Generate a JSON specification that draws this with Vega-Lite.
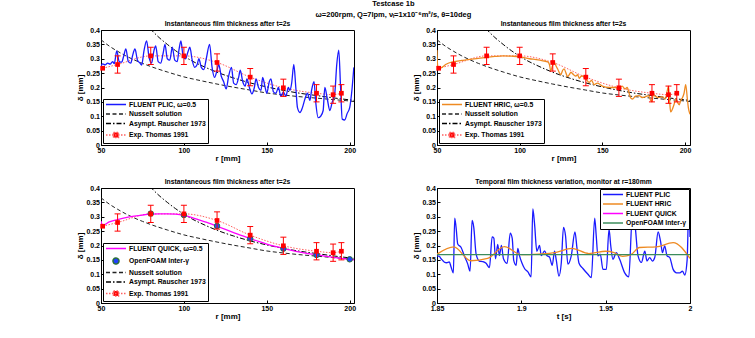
{
  "$schema": "https://vega.github.io/schema/vega-lite/v6.json",
  "background": "white",
  "padding": {"left": 76, "top": 0, "right": 5, "bottom": 5},
  "title": {"text": ["Testcase 1b", "ω=200rpm, Q=7lpm, νₗ=1x10⁻⁶m²/s, θ=10deg"], "fontSize": 7.5, "fontWeight": "bold", "lineHeight": 11, "offset": 2, "dx": 9, "anchor": "middle", "color": "black"},
  "columns": 2,
  "spacing": {"row": 15, "column": 55},
  "resolve": {"scale": {"x": "independent", "y": "independent", "color": "independent", "strokeDash": "independent"}, "legend": {"color": "independent", "strokeDash": "independent"}},
  "datasets": {
    "common": [
      {"s": "Nusselt solution", "r": 50, "d": 0.366}, {"s": "Nusselt solution", "r": 55, "d": 0.344}, {"s": "Nusselt solution", "r": 60, "d": 0.326}, {"s": "Nusselt solution", "r": 65, "d": 0.31}, {"s": "Nusselt solution", "r": 70, "d": 0.296}, {"s": "Nusselt solution", "r": 75, "d": 0.284}, {"s": "Nusselt solution", "r": 80, "d": 0.273}, {"s": "Nusselt solution", "r": 90, "d": 0.254}, {"s": "Nusselt solution", "r": 100, "d": 0.237}, {"s": "Nusselt solution", "r": 110, "d": 0.224}, {"s": "Nusselt solution", "r": 120, "d": 0.212}, {"s": "Nusselt solution", "r": 130, "d": 0.201}, {"s": "Nusselt solution", "r": 140, "d": 0.191}, {"s": "Nusselt solution", "r": 150, "d": 0.181}, {"s": "Nusselt solution", "r": 160, "d": 0.174}, {"s": "Nusselt solution", "r": 170, "d": 0.168}, {"s": "Nusselt solution", "r": 180, "d": 0.163}, {"s": "Nusselt solution", "r": 190, "d": 0.158}, {"s": "Nusselt solution", "r": 200, "d": 0.153}, {"s": "Nusselt solution", "r": 203, "d": 0.151},
      {"s": "Asympt. Rauscher 1973", "r": 79.5, "d": 0.405}, {"s": "Asympt. Rauscher 1973", "r": 85, "d": 0.374}, {"s": "Asympt. Rauscher 1973", "r": 90, "d": 0.35}, {"s": "Asympt. Rauscher 1973", "r": 95, "d": 0.328}, {"s": "Asympt. Rauscher 1973", "r": 100, "d": 0.309}, {"s": "Asympt. Rauscher 1973", "r": 105, "d": 0.292}, {"s": "Asympt. Rauscher 1973", "r": 110, "d": 0.278}, {"s": "Asympt. Rauscher 1973", "r": 120, "d": 0.253}, {"s": "Asympt. Rauscher 1973", "r": 130, "d": 0.233}, {"s": "Asympt. Rauscher 1973", "r": 140, "d": 0.216}, {"s": "Asympt. Rauscher 1973", "r": 150, "d": 0.202}, {"s": "Asympt. Rauscher 1973", "r": 160, "d": 0.19}, {"s": "Asympt. Rauscher 1973", "r": 170, "d": 0.18}, {"s": "Asympt. Rauscher 1973", "r": 180, "d": 0.172}, {"s": "Asympt. Rauscher 1973", "r": 190, "d": 0.164}, {"s": "Asympt. Rauscher 1973", "r": 203, "d": 0.155},
      {"s": "Exp. Thomas 1991", "r": 51, "d": 0.267}, {"s": "Exp. Thomas 1991", "r": 60, "d": 0.28}, {"s": "Exp. Thomas 1991", "r": 80, "d": 0.31}, {"s": "Exp. Thomas 1991", "r": 100, "d": 0.31}, {"s": "Exp. Thomas 1991", "r": 120, "d": 0.287}, {"s": "Exp. Thomas 1991", "r": 140, "d": 0.236}, {"s": "Exp. Thomas 1991", "r": 160, "d": 0.199}, {"s": "Exp. Thomas 1991", "r": 180, "d": 0.18}, {"s": "Exp. Thomas 1991", "r": 190, "d": 0.175}, {"s": "Exp. Thomas 1991", "r": 195, "d": 0.18}
    ],
    "exp": [
      {"r": 60, "d": 0.28, "lo": 0.25, "hi": 0.31}, {"r": 80, "d": 0.31, "lo": 0.28, "hi": 0.34}, {"r": 100, "d": 0.31, "lo": 0.28, "hi": 0.34}, {"r": 120, "d": 0.287, "lo": 0.257, "hi": 0.317}, {"r": 140, "d": 0.236, "lo": 0.206, "hi": 0.266}, {"r": 160, "d": 0.199, "lo": 0.169, "hi": 0.229}, {"r": 180, "d": 0.18, "lo": 0.15, "hi": 0.21}, {"r": 190, "d": 0.175, "lo": 0.145, "hi": 0.205}, {"r": 195, "d": 0.18, "lo": 0.15, "hi": 0.21}
    ],
    "exppts": [
      {"r": 51, "d": 0.267}, {"r": 60, "d": 0.28}, {"r": 80, "d": 0.31}, {"r": 100, "d": 0.31}, {"r": 120, "d": 0.287}, {"r": 140, "d": 0.236}, {"r": 160, "d": 0.199}, {"r": 180, "d": 0.18}, {"r": 190, "d": 0.175}, {"r": 195, "d": 0.18}
    ],
    "plic": [
      {"s": "FLUENT PLIC, ω=0.5", "r": 50, "d": 0.275}, {"s": "FLUENT PLIC, ω=0.5", "r": 51, "d": 0.282}, {"s": "FLUENT PLIC, ω=0.5", "r": 52.5, "d": 0.279}, {"s": "FLUENT PLIC, ω=0.5", "r": 54, "d": 0.285}, {"s": "FLUENT PLIC, ω=0.5", "r": 55.5, "d": 0.281}, {"s": "FLUENT PLIC, ω=0.5", "r": 57, "d": 0.29}, {"s": "FLUENT PLIC, ω=0.5", "r": 58, "d": 0.283}, {"s": "FLUENT PLIC, ω=0.5", "r": 59.5, "d": 0.327}, {"s": "FLUENT PLIC, ω=0.5", "r": 61, "d": 0.29}, {"s": "FLUENT PLIC, ω=0.5", "r": 62.5, "d": 0.288}, {"s": "FLUENT PLIC, ω=0.5", "r": 63.5, "d": 0.305}, {"s": "FLUENT PLIC, ω=0.5", "r": 65, "d": 0.334}, {"s": "FLUENT PLIC, ω=0.5", "r": 66.5, "d": 0.29}, {"s": "FLUENT PLIC, ω=0.5", "r": 68, "d": 0.285}, {"s": "FLUENT PLIC, ω=0.5", "r": 69, "d": 0.31}, {"s": "FLUENT PLIC, ω=0.5", "r": 70.5, "d": 0.334}, {"s": "FLUENT PLIC, ω=0.5", "r": 72, "d": 0.295}, {"s": "FLUENT PLIC, ω=0.5", "r": 73.5, "d": 0.285}, {"s": "FLUENT PLIC, ω=0.5", "r": 74.5, "d": 0.278}, {"s": "FLUENT PLIC, ω=0.5", "r": 76, "d": 0.33}, {"s": "FLUENT PLIC, ω=0.5", "r": 77.5, "d": 0.362}, {"s": "FLUENT PLIC, ω=0.5", "r": 79, "d": 0.305}, {"s": "FLUENT PLIC, ω=0.5", "r": 80.5, "d": 0.285}, {"s": "FLUENT PLIC, ω=0.5", "r": 82, "d": 0.33}, {"s": "FLUENT PLIC, ω=0.5", "r": 83, "d": 0.345}, {"s": "FLUENT PLIC, ω=0.5", "r": 84.5, "d": 0.29}, {"s": "FLUENT PLIC, ω=0.5", "r": 86, "d": 0.285}, {"s": "FLUENT PLIC, ω=0.5", "r": 87.5, "d": 0.32}, {"s": "FLUENT PLIC, ω=0.5", "r": 88.6, "d": 0.35}, {"s": "FLUENT PLIC, ω=0.5", "r": 90, "d": 0.3}, {"s": "FLUENT PLIC, ω=0.5", "r": 91.5, "d": 0.295}, {"s": "FLUENT PLIC, ω=0.5", "r": 93, "d": 0.34}, {"s": "FLUENT PLIC, ω=0.5", "r": 94.5, "d": 0.295}, {"s": "FLUENT PLIC, ω=0.5", "r": 96, "d": 0.29}, {"s": "FLUENT PLIC, ω=0.5", "r": 97, "d": 0.33}, {"s": "FLUENT PLIC, ω=0.5", "r": 98.2, "d": 0.362}, {"s": "FLUENT PLIC, ω=0.5", "r": 99.5, "d": 0.31}, {"s": "FLUENT PLIC, ω=0.5", "r": 101, "d": 0.3}, {"s": "FLUENT PLIC, ω=0.5", "r": 102.5, "d": 0.325}, {"s": "FLUENT PLIC, ω=0.5", "r": 103.6, "d": 0.34}, {"s": "FLUENT PLIC, ω=0.5", "r": 105, "d": 0.295}, {"s": "FLUENT PLIC, ω=0.5", "r": 106.5, "d": 0.27}, {"s": "FLUENT PLIC, ω=0.5", "r": 108, "d": 0.28}, {"s": "FLUENT PLIC, ω=0.5", "r": 109, "d": 0.3}, {"s": "FLUENT PLIC, ω=0.5", "r": 110.5, "d": 0.27}, {"s": "FLUENT PLIC, ω=0.5", "r": 112, "d": 0.262}, {"s": "FLUENT PLIC, ω=0.5", "r": 113.5, "d": 0.3}, {"s": "FLUENT PLIC, ω=0.5", "r": 115.5, "d": 0.35}, {"s": "FLUENT PLIC, ω=0.5", "r": 117, "d": 0.27}, {"s": "FLUENT PLIC, ω=0.5", "r": 118.5, "d": 0.235}, {"s": "FLUENT PLIC, ω=0.5", "r": 120, "d": 0.26}, {"s": "FLUENT PLIC, ω=0.5", "r": 121, "d": 0.28}, {"s": "FLUENT PLIC, ω=0.5", "r": 122.5, "d": 0.24}, {"s": "FLUENT PLIC, ω=0.5", "r": 124, "d": 0.22}, {"s": "FLUENT PLIC, ω=0.5", "r": 125.5, "d": 0.195}, {"s": "FLUENT PLIC, ω=0.5", "r": 127, "d": 0.24}, {"s": "FLUENT PLIC, ω=0.5", "r": 128.7, "d": 0.27}, {"s": "FLUENT PLIC, ω=0.5", "r": 130, "d": 0.215}, {"s": "FLUENT PLIC, ω=0.5", "r": 131.5, "d": 0.21}, {"s": "FLUENT PLIC, ω=0.5", "r": 133, "d": 0.235}, {"s": "FLUENT PLIC, ω=0.5", "r": 134, "d": 0.26}, {"s": "FLUENT PLIC, ω=0.5", "r": 135.5, "d": 0.22}, {"s": "FLUENT PLIC, ω=0.5", "r": 137, "d": 0.205}, {"s": "FLUENT PLIC, ω=0.5", "r": 138, "d": 0.23}, {"s": "FLUENT PLIC, ω=0.5", "r": 139.5, "d": 0.2}, {"s": "FLUENT PLIC, ω=0.5", "r": 141, "d": 0.178}, {"s": "FLUENT PLIC, ω=0.5", "r": 142.5, "d": 0.2}, {"s": "FLUENT PLIC, ω=0.5", "r": 143.5, "d": 0.23}, {"s": "FLUENT PLIC, ω=0.5", "r": 145, "d": 0.2}, {"s": "FLUENT PLIC, ω=0.5", "r": 146.5, "d": 0.19}, {"s": "FLUENT PLIC, ω=0.5", "r": 147.5, "d": 0.235}, {"s": "FLUENT PLIC, ω=0.5", "r": 149, "d": 0.2}, {"s": "FLUENT PLIC, ω=0.5", "r": 150, "d": 0.18}, {"s": "FLUENT PLIC, ω=0.5", "r": 151.5, "d": 0.22}, {"s": "FLUENT PLIC, ω=0.5", "r": 152.5, "d": 0.23}, {"s": "FLUENT PLIC, ω=0.5", "r": 154, "d": 0.185}, {"s": "FLUENT PLIC, ω=0.5", "r": 155.5, "d": 0.18}, {"s": "FLUENT PLIC, ω=0.5", "r": 157, "d": 0.2}, {"s": "FLUENT PLIC, ω=0.5", "r": 158.5, "d": 0.17}, {"s": "FLUENT PLIC, ω=0.5", "r": 160, "d": 0.185}, {"s": "FLUENT PLIC, ω=0.5", "r": 161.5, "d": 0.17}, {"s": "FLUENT PLIC, ω=0.5", "r": 163, "d": 0.2}, {"s": "FLUENT PLIC, ω=0.5", "r": 164, "d": 0.19}, {"s": "FLUENT PLIC, ω=0.5", "r": 165, "d": 0.215}, {"s": "FLUENT PLIC, ω=0.5", "r": 166.3, "d": 0.28}, {"s": "FLUENT PLIC, ω=0.5", "r": 167.5, "d": 0.2}, {"s": "FLUENT PLIC, ω=0.5", "r": 168.5, "d": 0.13}, {"s": "FLUENT PLIC, ω=0.5", "r": 170, "d": 0.113}, {"s": "FLUENT PLIC, ω=0.5", "r": 171.5, "d": 0.13}, {"s": "FLUENT PLIC, ω=0.5", "r": 173, "d": 0.16}, {"s": "FLUENT PLIC, ω=0.5", "r": 174.5, "d": 0.18}, {"s": "FLUENT PLIC, ω=0.5", "r": 176, "d": 0.155}, {"s": "FLUENT PLIC, ω=0.5", "r": 177, "d": 0.19}, {"s": "FLUENT PLIC, ω=0.5", "r": 178.5, "d": 0.22}, {"s": "FLUENT PLIC, ω=0.5", "r": 179.5, "d": 0.15}, {"s": "FLUENT PLIC, ω=0.5", "r": 181, "d": 0.095}, {"s": "FLUENT PLIC, ω=0.5", "r": 182.5, "d": 0.1}, {"s": "FLUENT PLIC, ω=0.5", "r": 184, "d": 0.12}, {"s": "FLUENT PLIC, ω=0.5", "r": 185, "d": 0.2}, {"s": "FLUENT PLIC, ω=0.5", "r": 186.5, "d": 0.16}, {"s": "FLUENT PLIC, ω=0.5", "r": 188, "d": 0.12}, {"s": "FLUENT PLIC, ω=0.5", "r": 189.5, "d": 0.15}, {"s": "FLUENT PLIC, ω=0.5", "r": 191, "d": 0.18}, {"s": "FLUENT PLIC, ω=0.5", "r": 192.2, "d": 0.28}, {"s": "FLUENT PLIC, ω=0.5", "r": 193.4, "d": 0.33}, {"s": "FLUENT PLIC, ω=0.5", "r": 194.5, "d": 0.2}, {"s": "FLUENT PLIC, ω=0.5", "r": 195.5, "d": 0.09}, {"s": "FLUENT PLIC, ω=0.5", "r": 197, "d": 0.087}, {"s": "FLUENT PLIC, ω=0.5", "r": 198.5, "d": 0.11}, {"s": "FLUENT PLIC, ω=0.5", "r": 200, "d": 0.13}, {"s": "FLUENT PLIC, ω=0.5", "r": 201.5, "d": 0.2}, {"s": "FLUENT PLIC, ω=0.5", "r": 202.5, "d": 0.27}
    ],
    "hric": [
      {"s": "FLUENT HRIC, ω=0.5", "r": 50, "d": 0.33}, {"s": "FLUENT HRIC, ω=0.5", "r": 50.3, "d": 0.28}, {"s": "FLUENT HRIC, ω=0.5", "r": 51, "d": 0.266}, {"s": "FLUENT HRIC, ω=0.5", "r": 53, "d": 0.27}, {"s": "FLUENT HRIC, ω=0.5", "r": 55.5, "d": 0.281}, {"s": "FLUENT HRIC, ω=0.5", "r": 60, "d": 0.29}, {"s": "FLUENT HRIC, ω=0.5", "r": 65, "d": 0.294}, {"s": "FLUENT HRIC, ω=0.5", "r": 70, "d": 0.298}, {"s": "FLUENT HRIC, ω=0.5", "r": 75, "d": 0.301}, {"s": "FLUENT HRIC, ω=0.5", "r": 80, "d": 0.305}, {"s": "FLUENT HRIC, ω=0.5", "r": 85, "d": 0.308}, {"s": "FLUENT HRIC, ω=0.5", "r": 90, "d": 0.31}, {"s": "FLUENT HRIC, ω=0.5", "r": 95, "d": 0.309}, {"s": "FLUENT HRIC, ω=0.5", "r": 100, "d": 0.307}, {"s": "FLUENT HRIC, ω=0.5", "r": 106, "d": 0.3}, {"s": "FLUENT HRIC, ω=0.5", "r": 110, "d": 0.297}, {"s": "FLUENT HRIC, ω=0.5", "r": 114, "d": 0.293}, {"s": "FLUENT HRIC, ω=0.5", "r": 117, "d": 0.289}, {"s": "FLUENT HRIC, ω=0.5", "r": 118, "d": 0.28}, {"s": "FLUENT HRIC, ω=0.5", "r": 118.8, "d": 0.258}, {"s": "FLUENT HRIC, ω=0.5", "r": 119.8, "d": 0.275}, {"s": "FLUENT HRIC, ω=0.5", "r": 120.9, "d": 0.288}, {"s": "FLUENT HRIC, ω=0.5", "r": 122, "d": 0.275}, {"s": "FLUENT HRIC, ω=0.5", "r": 122.9, "d": 0.265}, {"s": "FLUENT HRIC, ω=0.5", "r": 124.9, "d": 0.245}, {"s": "FLUENT HRIC, ω=0.5", "r": 126, "d": 0.26}, {"s": "FLUENT HRIC, ω=0.5", "r": 126.9, "d": 0.265}, {"s": "FLUENT HRIC, ω=0.5", "r": 128, "d": 0.25}, {"s": "FLUENT HRIC, ω=0.5", "r": 128.9, "d": 0.238}, {"s": "FLUENT HRIC, ω=0.5", "r": 130, "d": 0.245}, {"s": "FLUENT HRIC, ω=0.5", "r": 131, "d": 0.253}, {"s": "FLUENT HRIC, ω=0.5", "r": 132.5, "d": 0.245}, {"s": "FLUENT HRIC, ω=0.5", "r": 134, "d": 0.24}, {"s": "FLUENT HRIC, ω=0.5", "r": 135, "d": 0.245}, {"s": "FLUENT HRIC, ω=0.5", "r": 136, "d": 0.232}, {"s": "FLUENT HRIC, ω=0.5", "r": 137, "d": 0.238}, {"s": "FLUENT HRIC, ω=0.5", "r": 138, "d": 0.24}, {"s": "FLUENT HRIC, ω=0.5", "r": 140, "d": 0.23}, {"s": "FLUENT HRIC, ω=0.5", "r": 142, "d": 0.218}, {"s": "FLUENT HRIC, ω=0.5", "r": 143.5, "d": 0.225}, {"s": "FLUENT HRIC, ω=0.5", "r": 145, "d": 0.21}, {"s": "FLUENT HRIC, ω=0.5", "r": 147, "d": 0.215}, {"s": "FLUENT HRIC, ω=0.5", "r": 150, "d": 0.205}, {"s": "FLUENT HRIC, ω=0.5", "r": 154, "d": 0.2}, {"s": "FLUENT HRIC, ω=0.5", "r": 158, "d": 0.2}, {"s": "FLUENT HRIC, ω=0.5", "r": 160, "d": 0.195}, {"s": "FLUENT HRIC, ω=0.5", "r": 162, "d": 0.205}, {"s": "FLUENT HRIC, ω=0.5", "r": 163.7, "d": 0.195}, {"s": "FLUENT HRIC, ω=0.5", "r": 165, "d": 0.2}, {"s": "FLUENT HRIC, ω=0.5", "r": 166.2, "d": 0.18}, {"s": "FLUENT HRIC, ω=0.5", "r": 167, "d": 0.165}, {"s": "FLUENT HRIC, ω=0.5", "r": 168.2, "d": 0.16}, {"s": "FLUENT HRIC, ω=0.5", "r": 170, "d": 0.17}, {"s": "FLUENT HRIC, ω=0.5", "r": 172.2, "d": 0.172}, {"s": "FLUENT HRIC, ω=0.5", "r": 174, "d": 0.165}, {"s": "FLUENT HRIC, ω=0.5", "r": 176.2, "d": 0.168}, {"s": "FLUENT HRIC, ω=0.5", "r": 178, "d": 0.172}, {"s": "FLUENT HRIC, ω=0.5", "r": 179.2, "d": 0.155}, {"s": "FLUENT HRIC, ω=0.5", "r": 180, "d": 0.15}, {"s": "FLUENT HRIC, ω=0.5", "r": 180.8, "d": 0.177}, {"s": "FLUENT HRIC, ω=0.5", "r": 182, "d": 0.17}, {"s": "FLUENT HRIC, ω=0.5", "r": 184, "d": 0.165}, {"s": "FLUENT HRIC, ω=0.5", "r": 186.3, "d": 0.168}, {"s": "FLUENT HRIC, ω=0.5", "r": 188, "d": 0.16}, {"s": "FLUENT HRIC, ω=0.5", "r": 189.3, "d": 0.19}, {"s": "FLUENT HRIC, ω=0.5", "r": 190, "d": 0.205}, {"s": "FLUENT HRIC, ω=0.5", "r": 190.6, "d": 0.16}, {"s": "FLUENT HRIC, ω=0.5", "r": 191.3, "d": 0.115}, {"s": "FLUENT HRIC, ω=0.5", "r": 192, "d": 0.12}, {"s": "FLUENT HRIC, ω=0.5", "r": 193.3, "d": 0.14}, {"s": "FLUENT HRIC, ω=0.5", "r": 194.5, "d": 0.16}, {"s": "FLUENT HRIC, ω=0.5", "r": 195.3, "d": 0.15}, {"s": "FLUENT HRIC, ω=0.5", "r": 196.5, "d": 0.14}, {"s": "FLUENT HRIC, ω=0.5", "r": 197.4, "d": 0.155}, {"s": "FLUENT HRIC, ω=0.5", "r": 198.5, "d": 0.165}, {"s": "FLUENT HRIC, ω=0.5", "r": 199.4, "d": 0.18}, {"s": "FLUENT HRIC, ω=0.5", "r": 200.4, "d": 0.21}, {"s": "FLUENT HRIC, ω=0.5", "r": 201.4, "d": 0.16}, {"s": "FLUENT HRIC, ω=0.5", "r": 202, "d": 0.13}, {"s": "FLUENT HRIC, ω=0.5", "r": 203, "d": 0.107}
    ],
    "quick": [
      {"s": "FLUENT QUICK, ω=0.5", "r": 50, "d": 0.285}, {"s": "FLUENT QUICK, ω=0.5", "r": 51, "d": 0.27}, {"s": "FLUENT QUICK, ω=0.5", "r": 55, "d": 0.282}, {"s": "FLUENT QUICK, ω=0.5", "r": 60, "d": 0.29}, {"s": "FLUENT QUICK, ω=0.5", "r": 65, "d": 0.297}, {"s": "FLUENT QUICK, ω=0.5", "r": 70, "d": 0.302}, {"s": "FLUENT QUICK, ω=0.5", "r": 75, "d": 0.306}, {"s": "FLUENT QUICK, ω=0.5", "r": 80, "d": 0.309}, {"s": "FLUENT QUICK, ω=0.5", "r": 85, "d": 0.31}, {"s": "FLUENT QUICK, ω=0.5", "r": 90, "d": 0.31}, {"s": "FLUENT QUICK, ω=0.5", "r": 95, "d": 0.309}, {"s": "FLUENT QUICK, ω=0.5", "r": 100, "d": 0.305}, {"s": "FLUENT QUICK, ω=0.5", "r": 105, "d": 0.297}, {"s": "FLUENT QUICK, ω=0.5", "r": 110, "d": 0.287}, {"s": "FLUENT QUICK, ω=0.5", "r": 115, "d": 0.278}, {"s": "FLUENT QUICK, ω=0.5", "r": 120, "d": 0.267}, {"s": "FLUENT QUICK, ω=0.5", "r": 125, "d": 0.256}, {"s": "FLUENT QUICK, ω=0.5", "r": 130, "d": 0.245}, {"s": "FLUENT QUICK, ω=0.5", "r": 135, "d": 0.234}, {"s": "FLUENT QUICK, ω=0.5", "r": 140, "d": 0.224}, {"s": "FLUENT QUICK, ω=0.5", "r": 145, "d": 0.214}, {"s": "FLUENT QUICK, ω=0.5", "r": 150, "d": 0.205}, {"s": "FLUENT QUICK, ω=0.5", "r": 155, "d": 0.197}, {"s": "FLUENT QUICK, ω=0.5", "r": 160, "d": 0.19}, {"s": "FLUENT QUICK, ω=0.5", "r": 165, "d": 0.183}, {"s": "FLUENT QUICK, ω=0.5", "r": 170, "d": 0.177}, {"s": "FLUENT QUICK, ω=0.5", "r": 175, "d": 0.172}, {"s": "FLUENT QUICK, ω=0.5", "r": 180, "d": 0.168}, {"s": "FLUENT QUICK, ω=0.5", "r": 185, "d": 0.163}, {"s": "FLUENT QUICK, ω=0.5", "r": 190, "d": 0.159}, {"s": "FLUENT QUICK, ω=0.5", "r": 195, "d": 0.155}, {"s": "FLUENT QUICK, ω=0.5", "r": 200, "d": 0.152}, {"s": "FLUENT QUICK, ω=0.5", "r": 203, "d": 0.15}
    ],
    "foam": [
      {"r": 80, "d": 0.311}, {"r": 100, "d": 0.306}, {"r": 120, "d": 0.268}, {"r": 140, "d": 0.224}, {"r": 160, "d": 0.189}, {"r": 180, "d": 0.167}, {"r": 200, "d": 0.152}
    ],
    "temporal": [
      {"s": "FLUENT PLIC", "t": 1.85, "d": 0.164}, {"s": "FLUENT PLIC", "t": 1.8514, "d": 0.162}, {"s": "FLUENT PLIC", "t": 1.8524, "d": 0.154}, {"s": "FLUENT PLIC", "t": 1.8534, "d": 0.148}, {"s": "FLUENT PLIC", "t": 1.8544, "d": 0.142}, {"s": "FLUENT PLIC", "t": 1.8557, "d": 0.14}, {"s": "FLUENT PLIC", "t": 1.8573, "d": 0.143}, {"s": "FLUENT PLIC", "t": 1.8583, "d": 0.126}, {"s": "FLUENT PLIC", "t": 1.8597, "d": 0.105}, {"s": "FLUENT PLIC", "t": 1.8605, "d": 0.295}, {"s": "FLUENT PLIC", "t": 1.8613, "d": 0.263}, {"s": "FLUENT PLIC", "t": 1.8623, "d": 0.205}, {"s": "FLUENT PLIC", "t": 1.8643, "d": 0.193}, {"s": "FLUENT PLIC", "t": 1.8662, "d": 0.164}, {"s": "FLUENT PLIC", "t": 1.8682, "d": 0.136}, {"s": "FLUENT PLIC", "t": 1.8696, "d": 0.111}, {"s": "FLUENT PLIC", "t": 1.8708, "d": 0.287}, {"s": "FLUENT PLIC", "t": 1.8718, "d": 0.263}, {"s": "FLUENT PLIC", "t": 1.8732, "d": 0.17}, {"s": "FLUENT PLIC", "t": 1.8751, "d": 0.146}, {"s": "FLUENT PLIC", "t": 1.8771, "d": 0.144}, {"s": "FLUENT PLIC", "t": 1.8791, "d": 0.138}, {"s": "FLUENT PLIC", "t": 1.8811, "d": 0.123}, {"s": "FLUENT PLIC", "t": 1.8827, "d": 0.23}, {"s": "FLUENT PLIC", "t": 1.8837, "d": 0.226}, {"s": "FLUENT PLIC", "t": 1.8847, "d": 0.154}, {"s": "FLUENT PLIC", "t": 1.886, "d": 0.204}, {"s": "FLUENT PLIC", "t": 1.887, "d": 0.165}, {"s": "FLUENT PLIC", "t": 1.8882, "d": 0.2}, {"s": "FLUENT PLIC", "t": 1.8894, "d": 0.154}, {"s": "FLUENT PLIC", "t": 1.8916, "d": 0.138}, {"s": "FLUENT PLIC", "t": 1.8934, "d": 0.243}, {"s": "FLUENT PLIC", "t": 1.8946, "d": 0.225}, {"s": "FLUENT PLIC", "t": 1.8955, "d": 0.148}, {"s": "FLUENT PLIC", "t": 1.8969, "d": 0.131}, {"s": "FLUENT PLIC", "t": 1.8979, "d": 0.19}, {"s": "FLUENT PLIC", "t": 1.8989, "d": 0.165}, {"s": "FLUENT PLIC", "t": 1.9003, "d": 0.14}, {"s": "FLUENT PLIC", "t": 1.9019, "d": 0.12}, {"s": "FLUENT PLIC", "t": 1.9039, "d": 0.108}, {"s": "FLUENT PLIC", "t": 1.9058, "d": 0.091}, {"s": "FLUENT PLIC", "t": 1.9068, "d": 0.327}, {"s": "FLUENT PLIC", "t": 1.9078, "d": 0.278}, {"s": "FLUENT PLIC", "t": 1.9092, "d": 0.18}, {"s": "FLUENT PLIC", "t": 1.9108, "d": 0.2}, {"s": "FLUENT PLIC", "t": 1.9118, "d": 0.165}, {"s": "FLUENT PLIC", "t": 1.9138, "d": 0.181}, {"s": "FLUENT PLIC", "t": 1.9151, "d": 0.165}, {"s": "FLUENT PLIC", "t": 1.9167, "d": 0.16}, {"s": "FLUENT PLIC", "t": 1.9183, "d": 0.131}, {"s": "FLUENT PLIC", "t": 1.9197, "d": 0.18}, {"s": "FLUENT PLIC", "t": 1.9207, "d": 0.15}, {"s": "FLUENT PLIC", "t": 1.9223, "d": 0.094}, {"s": "FLUENT PLIC", "t": 1.9237, "d": 0.14}, {"s": "FLUENT PLIC", "t": 1.925, "d": 0.263}, {"s": "FLUENT PLIC", "t": 1.9262, "d": 0.234}, {"s": "FLUENT PLIC", "t": 1.9276, "d": 0.135}, {"s": "FLUENT PLIC", "t": 1.9296, "d": 0.164}, {"s": "FLUENT PLIC", "t": 1.9318, "d": 0.247}, {"s": "FLUENT PLIC", "t": 1.933, "d": 0.19}, {"s": "FLUENT PLIC", "t": 1.9342, "d": 0.138}, {"s": "FLUENT PLIC", "t": 1.9365, "d": 0.12}, {"s": "FLUENT PLIC", "t": 1.9395, "d": 0.1}, {"s": "FLUENT PLIC", "t": 1.9415, "d": 0.088}, {"s": "FLUENT PLIC", "t": 1.9435, "d": 0.295}, {"s": "FLUENT PLIC", "t": 1.9444, "d": 0.234}, {"s": "FLUENT PLIC", "t": 1.9454, "d": 0.164}, {"s": "FLUENT PLIC", "t": 1.9468, "d": 0.17}, {"s": "FLUENT PLIC", "t": 1.9484, "d": 0.117}, {"s": "FLUENT PLIC", "t": 1.9504, "d": 0.117}, {"s": "FLUENT PLIC", "t": 1.952, "d": 0.257}, {"s": "FLUENT PLIC", "t": 1.953, "d": 0.2}, {"s": "FLUENT PLIC", "t": 1.9543, "d": 0.152}, {"s": "FLUENT PLIC", "t": 1.9563, "d": 0.175}, {"s": "FLUENT PLIC", "t": 1.9583, "d": 0.152}, {"s": "FLUENT PLIC", "t": 1.9613, "d": 0.105}, {"s": "FLUENT PLIC", "t": 1.9637, "d": 0.091}, {"s": "FLUENT PLIC", "t": 1.9658, "d": 0.3}, {"s": "FLUENT PLIC", "t": 1.9672, "d": 0.28}, {"s": "FLUENT PLIC", "t": 1.9692, "d": 0.164}, {"s": "FLUENT PLIC", "t": 1.9712, "d": 0.141}, {"s": "FLUENT PLIC", "t": 1.9732, "d": 0.18}, {"s": "FLUENT PLIC", "t": 1.9745, "d": 0.146}, {"s": "FLUENT PLIC", "t": 1.9761, "d": 0.158}, {"s": "FLUENT PLIC", "t": 1.9777, "d": 0.146}, {"s": "FLUENT PLIC", "t": 1.9791, "d": 0.158}, {"s": "FLUENT PLIC", "t": 1.9811, "d": 0.247}, {"s": "FLUENT PLIC", "t": 1.9825, "d": 0.216}, {"s": "FLUENT PLIC", "t": 1.9837, "d": 0.175}, {"s": "FLUENT PLIC", "t": 1.985, "d": 0.199}, {"s": "FLUENT PLIC", "t": 1.9864, "d": 0.164}, {"s": "FLUENT PLIC", "t": 1.988, "d": 0.158}, {"s": "FLUENT PLIC", "t": 1.99, "d": 0.117}, {"s": "FLUENT PLIC", "t": 1.992, "d": 0.105}, {"s": "FLUENT PLIC", "t": 1.994, "d": 0.105}, {"s": "FLUENT PLIC", "t": 1.9955, "d": 0.111}, {"s": "FLUENT PLIC", "t": 1.9969, "d": 0.097}, {"s": "FLUENT PLIC", "t": 1.9983, "d": 0.15}, {"s": "FLUENT PLIC", "t": 1.9993, "d": 0.339}, {"s": "FLUENT PLIC", "t": 2.0, "d": 0.23},
      {"s": "FLUENT HRIC", "t": 1.85, "d": 0.17}, {"s": "FLUENT HRIC", "t": 1.86, "d": 0.195}, {"s": "FLUENT HRIC", "t": 1.87, "d": 0.147}, {"s": "FLUENT HRIC", "t": 1.88, "d": 0.155}, {"s": "FLUENT HRIC", "t": 1.89, "d": 0.196}, {"s": "FLUENT HRIC", "t": 1.9, "d": 0.168}, {"s": "FLUENT HRIC", "t": 1.91, "d": 0.17}, {"s": "FLUENT HRIC", "t": 1.92, "d": 0.175}, {"s": "FLUENT HRIC", "t": 1.93, "d": 0.19}, {"s": "FLUENT HRIC", "t": 1.94, "d": 0.172}, {"s": "FLUENT HRIC", "t": 1.95, "d": 0.18}, {"s": "FLUENT HRIC", "t": 1.955, "d": 0.175}, {"s": "FLUENT HRIC", "t": 1.96, "d": 0.162}, {"s": "FLUENT HRIC", "t": 1.965, "d": 0.168}, {"s": "FLUENT HRIC", "t": 1.97, "d": 0.193}, {"s": "FLUENT HRIC", "t": 1.98, "d": 0.195}, {"s": "FLUENT HRIC", "t": 1.99, "d": 0.21}, {"s": "FLUENT HRIC", "t": 2.0, "d": 0.155},
      {"s": "OpenFOAM Inter-γ", "t": 1.85, "d": 0.168}, {"s": "OpenFOAM Inter-γ", "t": 2.0, "d": 0.168}
    ]
  },
  "concat": [
    {
      "width": 253, "height": 115,
      "title": "Instantaneous film thickness after t=2s",
      "layer": [
        {"data": {"name": "common"}, "mark": {"type": "line", "interpolate": "monotone", "strokeWidth": 1, "clip": true},
         "encoding": {
           "x": {"field": "r", "type": "quantitative", "scale": {"domain": [50, 202.6], "nice": false, "zero": false}, "axis": {"values": [50, 100, 150, 200], "format": "d", "title": "r [mm]", "labelOverlap": false}},
           "y": {"field": "d", "type": "quantitative", "scale": {"domain": [0, 0.4], "nice": false, "zero": false}, "axis": {"values": [0, 0.05, 0.1, 0.15, 0.2, 0.25, 0.3, 0.35, 0.4], "format": "~g", "title": "δ [mm]", "labelOverlap": false}},
           "color": {"field": "s", "type": "nominal", "title": null, "scale": {"domain": ["FLUENT PLIC, ω=0.5", "Nusselt solution", "Asympt. Rauscher 1973", "Exp. Thomas 1991"], "range": ["#1a1aff", "#222222", "#000000", "#ff6060"]},
             "legend": {"orient": "bottom-left", "offset": 2, "encode": {"symbols": {"update": {
               "shape": {"signal": "datum.value === 'Exp. Thomas 1991' ? 'M-1,0L7,0M2,-1L4,-1L4,1L2,1Z' : 'M-1,0L7,0'"},
               "fill": {"signal": "datum.value === 'Exp. Thomas 1991' ? '#ff0000' : 'transparent'"}
             }}}}},
           "strokeDash": {"field": "s", "type": "nominal", "title": null, "scale": {"domain": ["FLUENT PLIC, ω=0.5", "Nusselt solution", "Asympt. Rauscher 1973", "Exp. Thomas 1991"], "range": [[1, 0], [4, 2.5], [5, 2, 1.5, 2], [1.5, 1.5]]}, "legend": {"orient": "bottom-left", "offset": 2}}
         }},
        {"data": {"name": "plic"}, "mark": {"type": "line", "interpolate": "monotone", "strokeWidth": 1.3, "clip": true},
         "encoding": {
           "x": {"field": "r", "type": "quantitative", "axis": {"values": [50, 100, 150, 200], "format": "d", "title": "r [mm]", "labelOverlap": false}},
           "y": {"field": "d", "type": "quantitative", "axis": {"values": [0, 0.05, 0.1, 0.15, 0.2, 0.25, 0.3, 0.35, 0.4], "format": "~g", "title": "δ [mm]", "labelOverlap": false}},
           "color": {"field": "s", "type": "nominal", "title": null}}},
        {"data": {"name": "exp"}, "mark": {"type": "rule", "color": "#ff0000", "strokeWidth": 1},
         "encoding": {"x": {"field": "r", "type": "quantitative", "axis": {"values": [50, 100, 150, 200], "format": "d", "title": "r [mm]", "labelOverlap": false}}, "y": {"field": "lo", "type": "quantitative", "axis": {"values": [0, 0.05, 0.1, 0.15, 0.2, 0.25, 0.3, 0.35, 0.4], "format": "~g", "title": "δ [mm]", "labelOverlap": false}}, "y2": {"field": "hi"}}},
        {"data": {"name": "exp"}, "mark": {"type": "point", "shape": "M-1,0L1,0", "size": 36, "filled": false, "color": "#ff0000", "strokeWidth": 1, "opacity": 1},
         "encoding": {"x": {"field": "r", "type": "quantitative", "axis": {"values": [50, 100, 150, 200], "format": "d", "title": "r [mm]", "labelOverlap": false}}, "y": {"field": "lo", "type": "quantitative", "axis": {"values": [0, 0.05, 0.1, 0.15, 0.2, 0.25, 0.3, 0.35, 0.4], "format": "~g", "title": "δ [mm]", "labelOverlap": false}}}},
        {"data": {"name": "exp"}, "mark": {"type": "point", "shape": "M-1,0L1,0", "size": 36, "filled": false, "color": "#ff0000", "strokeWidth": 1, "opacity": 1},
         "encoding": {"x": {"field": "r", "type": "quantitative", "axis": {"values": [50, 100, 150, 200], "format": "d", "title": "r [mm]", "labelOverlap": false}}, "y": {"field": "hi", "type": "quantitative", "axis": {"values": [0, 0.05, 0.1, 0.15, 0.2, 0.25, 0.3, 0.35, 0.4], "format": "~g", "title": "δ [mm]", "labelOverlap": false}}}},
        {"data": {"name": "exppts"}, "mark": {"type": "point", "shape": "square", "filled": true, "color": "#ff0000", "size": 22, "opacity": 1},
         "encoding": {"x": {"field": "r", "type": "quantitative", "axis": {"values": [50, 100, 150, 200], "format": "d", "title": "r [mm]", "labelOverlap": false}}, "y": {"field": "d", "type": "quantitative", "axis": {"values": [0, 0.05, 0.1, 0.15, 0.2, 0.25, 0.3, 0.35, 0.4], "format": "~g", "title": "δ [mm]", "labelOverlap": false}}}}
      ]
    },
    {
      "width": 253, "height": 115,
      "title": "Instantaneous film thickness after t=2s",
      "layer": [
        {"data": {"name": "common"}, "mark": {"type": "line", "interpolate": "monotone", "strokeWidth": 1, "clip": true},
         "encoding": {
           "x": {"field": "r", "type": "quantitative", "scale": {"domain": [50, 203], "nice": false, "zero": false}, "axis": {"values": [50, 100, 150, 200], "format": "d", "title": "r [mm]", "labelOverlap": false}},
           "y": {"field": "d", "type": "quantitative", "scale": {"domain": [0, 0.4], "nice": false, "zero": false}, "axis": {"values": [0, 0.05, 0.1, 0.15, 0.2, 0.25, 0.3, 0.35, 0.4], "format": "~g", "title": "δ [mm]", "labelOverlap": false}},
           "color": {"field": "s", "type": "nominal", "title": null, "scale": {"domain": ["FLUENT HRIC, ω=0.5", "Nusselt solution", "Asympt. Rauscher 1973", "Exp. Thomas 1991"], "range": ["#ee8a22", "#222222", "#000000", "#ff6060"]},
             "legend": {"orient": "bottom-left", "offset": 2, "encode": {"symbols": {"update": {
               "shape": {"signal": "datum.value === 'Exp. Thomas 1991' ? 'M-1,0L7,0M2,-1L4,-1L4,1L2,1Z' : 'M-1,0L7,0'"},
               "fill": {"signal": "datum.value === 'Exp. Thomas 1991' ? '#ff0000' : 'transparent'"}
             }}}}},
           "strokeDash": {"field": "s", "type": "nominal", "title": null, "scale": {"domain": ["FLUENT HRIC, ω=0.5", "Nusselt solution", "Asympt. Rauscher 1973", "Exp. Thomas 1991"], "range": [[1, 0], [4, 2.5], [5, 2, 1.5, 2], [1.5, 1.5]]}, "legend": {"orient": "bottom-left", "offset": 2}}
         }},
        {"data": {"name": "hric"}, "mark": {"type": "line", "interpolate": "monotone", "strokeWidth": 1.3, "clip": true},
         "encoding": {
           "x": {"field": "r", "type": "quantitative", "axis": {"values": [50, 100, 150, 200], "format": "d", "title": "r [mm]", "labelOverlap": false}},
           "y": {"field": "d", "type": "quantitative", "axis": {"values": [0, 0.05, 0.1, 0.15, 0.2, 0.25, 0.3, 0.35, 0.4], "format": "~g", "title": "δ [mm]", "labelOverlap": false}},
           "color": {"field": "s", "type": "nominal", "title": null}}},
        {"data": {"name": "exp"}, "mark": {"type": "rule", "color": "#ff0000", "strokeWidth": 1},
         "encoding": {"x": {"field": "r", "type": "quantitative", "axis": {"values": [50, 100, 150, 200], "format": "d", "title": "r [mm]", "labelOverlap": false}}, "y": {"field": "lo", "type": "quantitative", "axis": {"values": [0, 0.05, 0.1, 0.15, 0.2, 0.25, 0.3, 0.35, 0.4], "format": "~g", "title": "δ [mm]", "labelOverlap": false}}, "y2": {"field": "hi"}}},
        {"data": {"name": "exp"}, "mark": {"type": "point", "shape": "M-1,0L1,0", "size": 36, "filled": false, "color": "#ff0000", "strokeWidth": 1, "opacity": 1},
         "encoding": {"x": {"field": "r", "type": "quantitative", "axis": {"values": [50, 100, 150, 200], "format": "d", "title": "r [mm]", "labelOverlap": false}}, "y": {"field": "lo", "type": "quantitative", "axis": {"values": [0, 0.05, 0.1, 0.15, 0.2, 0.25, 0.3, 0.35, 0.4], "format": "~g", "title": "δ [mm]", "labelOverlap": false}}}},
        {"data": {"name": "exp"}, "mark": {"type": "point", "shape": "M-1,0L1,0", "size": 36, "filled": false, "color": "#ff0000", "strokeWidth": 1, "opacity": 1},
         "encoding": {"x": {"field": "r", "type": "quantitative", "axis": {"values": [50, 100, 150, 200], "format": "d", "title": "r [mm]", "labelOverlap": false}}, "y": {"field": "hi", "type": "quantitative", "axis": {"values": [0, 0.05, 0.1, 0.15, 0.2, 0.25, 0.3, 0.35, 0.4], "format": "~g", "title": "δ [mm]", "labelOverlap": false}}}},
        {"data": {"name": "exppts"}, "mark": {"type": "point", "shape": "square", "filled": true, "color": "#ff0000", "size": 22, "opacity": 1},
         "encoding": {"x": {"field": "r", "type": "quantitative", "axis": {"values": [50, 100, 150, 200], "format": "d", "title": "r [mm]", "labelOverlap": false}}, "y": {"field": "d", "type": "quantitative", "axis": {"values": [0, 0.05, 0.1, 0.15, 0.2, 0.25, 0.3, 0.35, 0.4], "format": "~g", "title": "δ [mm]", "labelOverlap": false}}}}
      ]
    },
    {
      "width": 253, "height": 115,
      "title": "Instantaneous film thickness after t=2s",
      "layer": [
        {"data": {"name": "common"}, "mark": {"type": "line", "interpolate": "monotone", "strokeWidth": 1, "clip": true},
         "encoding": {
           "x": {"field": "r", "type": "quantitative", "scale": {"domain": [50, 202.6], "nice": false, "zero": false}, "axis": {"values": [50, 100, 150, 200], "format": "d", "title": "r [mm]", "labelOverlap": false}},
           "y": {"field": "d", "type": "quantitative", "scale": {"domain": [0, 0.4], "nice": false, "zero": false}, "axis": {"values": [0, 0.05, 0.1, 0.15, 0.2, 0.25, 0.3, 0.35, 0.4], "format": "~g", "title": "δ [mm]", "labelOverlap": false}},
           "color": {"field": "s", "type": "nominal", "title": null, "scale": {"domain": ["FLUENT QUICK, ω=0.5", "OpenFOAM Inter-γ", "Nusselt solution", "Asympt. Rauscher 1973", "Exp. Thomas 1991"], "range": ["#ff00ff", "#2a6e3a", "#222222", "#000000", "#ff6060"]},
             "legend": {"orient": "bottom-left", "offset": 2, "encode": {"symbols": {"update": {
               "shape": {"signal": "datum.value === 'Exp. Thomas 1991' ? 'M-1,0L7,0M2,-1L4,-1L4,1L2,1Z' : datum.value === 'OpenFOAM Inter-γ' ? 'M1.8,0A1.2,1.2 0 1,0 4.2,0A1.2,1.2 0 1,0 1.8,0Z' : 'M-1,0L7,0'"},
               "fill": {"signal": "datum.value === 'Exp. Thomas 1991' ? '#ff0000' : datum.value === 'OpenFOAM Inter-γ' ? '#2040ff' : 'transparent'"}
             }}}}},
           "strokeDash": {"field": "s", "type": "nominal", "title": null, "scale": {"domain": ["FLUENT QUICK, ω=0.5", "OpenFOAM Inter-γ", "Nusselt solution", "Asympt. Rauscher 1973", "Exp. Thomas 1991"], "range": [[1, 0], [1, 0], [4, 2.5], [5, 2, 1.5, 2], [1.5, 1.5]]}, "legend": {"orient": "bottom-left", "offset": 2}}
         }},
        {"data": {"name": "quick"}, "mark": {"type": "line", "interpolate": "monotone", "strokeWidth": 1.3, "clip": true},
         "encoding": {
           "x": {"field": "r", "type": "quantitative", "axis": {"values": [50, 100, 150, 200], "format": "d", "title": "r [mm]", "labelOverlap": false}},
           "y": {"field": "d", "type": "quantitative", "axis": {"values": [0, 0.05, 0.1, 0.15, 0.2, 0.25, 0.3, 0.35, 0.4], "format": "~g", "title": "δ [mm]", "labelOverlap": false}},
           "color": {"field": "s", "type": "nominal", "title": null}}},
        {"data": {"name": "foam"}, "mark": {"type": "point", "shape": "circle", "filled": true, "fill": "#2040ff", "stroke": "#2a6e3a", "strokeWidth": 1, "size": 30, "opacity": 1},
         "encoding": {"x": {"field": "r", "type": "quantitative", "axis": {"values": [50, 100, 150, 200], "format": "d", "title": "r [mm]", "labelOverlap": false}}, "y": {"field": "d", "type": "quantitative", "axis": {"values": [0, 0.05, 0.1, 0.15, 0.2, 0.25, 0.3, 0.35, 0.4], "format": "~g", "title": "δ [mm]", "labelOverlap": false}}}},
        {"data": {"name": "exp"}, "mark": {"type": "rule", "color": "#ff0000", "strokeWidth": 1},
         "encoding": {"x": {"field": "r", "type": "quantitative", "axis": {"values": [50, 100, 150, 200], "format": "d", "title": "r [mm]", "labelOverlap": false}}, "y": {"field": "lo", "type": "quantitative", "axis": {"values": [0, 0.05, 0.1, 0.15, 0.2, 0.25, 0.3, 0.35, 0.4], "format": "~g", "title": "δ [mm]", "labelOverlap": false}}, "y2": {"field": "hi"}}},
        {"data": {"name": "exp"}, "mark": {"type": "point", "shape": "M-1,0L1,0", "size": 36, "filled": false, "color": "#ff0000", "strokeWidth": 1, "opacity": 1},
         "encoding": {"x": {"field": "r", "type": "quantitative", "axis": {"values": [50, 100, 150, 200], "format": "d", "title": "r [mm]", "labelOverlap": false}}, "y": {"field": "lo", "type": "quantitative", "axis": {"values": [0, 0.05, 0.1, 0.15, 0.2, 0.25, 0.3, 0.35, 0.4], "format": "~g", "title": "δ [mm]", "labelOverlap": false}}}},
        {"data": {"name": "exp"}, "mark": {"type": "point", "shape": "M-1,0L1,0", "size": 36, "filled": false, "color": "#ff0000", "strokeWidth": 1, "opacity": 1},
         "encoding": {"x": {"field": "r", "type": "quantitative", "axis": {"values": [50, 100, 150, 200], "format": "d", "title": "r [mm]", "labelOverlap": false}}, "y": {"field": "hi", "type": "quantitative", "axis": {"values": [0, 0.05, 0.1, 0.15, 0.2, 0.25, 0.3, 0.35, 0.4], "format": "~g", "title": "δ [mm]", "labelOverlap": false}}}},
        {"data": {"name": "exppts"}, "mark": {"type": "point", "shape": "square", "filled": true, "color": "#ff0000", "size": 22, "opacity": 1},
         "encoding": {"x": {"field": "r", "type": "quantitative", "axis": {"values": [50, 100, 150, 200], "format": "d", "title": "r [mm]", "labelOverlap": false}}, "y": {"field": "d", "type": "quantitative", "axis": {"values": [0, 0.05, 0.1, 0.15, 0.2, 0.25, 0.3, 0.35, 0.4], "format": "~g", "title": "δ [mm]", "labelOverlap": false}}}}
      ]
    },
    {
      "width": 253, "height": 115,
      "title": "Temporal film thickness variation, monitor at r=180mm",
      "data": {"name": "temporal"},
      "mark": {"type": "line", "interpolate": "monotone", "strokeWidth": 1.3, "clip": true},
      "encoding": {
        "x": {"field": "t", "type": "quantitative", "scale": {"domain": [1.85, 2.0], "nice": false, "zero": false}, "axis": {"values": [1.85, 1.9, 1.95, 2], "format": "~g", "title": "t [s]", "labelOverlap": false}},
        "y": {"field": "d", "type": "quantitative", "scale": {"domain": [0, 0.4], "nice": false, "zero": false}, "axis": {"values": [0, 0.05, 0.1, 0.15, 0.2, 0.25, 0.3, 0.35, 0.4], "format": "~g", "title": "δ [mm]", "labelOverlap": false}},
        "color": {"field": "s", "type": "nominal", "title": null, "scale": {"domain": ["FLUENT PLIC", "FLUENT HRIC", "FLUENT QUICK", "OpenFOAM Inter-γ"], "range": ["#1a1aff", "#ee8a22", "#ff00ff", "#3c8c5c"]}, "legend": {"orient": "top-right", "offset": 1}}
      }
    }
  ],
  "config": {
    "font": "Liberation Sans",
    "view": {"stroke": "black", "strokeWidth": 1},
    "title": {"fontSize": 6.8, "fontWeight": "bold", "color": "black", "offset": -2},
    "axis": {"labelFontSize": 7, "labelFontWeight": "bold", "labelColor": "black", "titleFontSize": 8, "titleFontWeight": "bold", "titleColor": "black", "domainColor": "black", "tickColor": "black", "tickSize": -3, "labelPadding": 4.5, "titlePadding": 1, "grid": false, "labelFlush": false, "labelOverlap": false},
    "legend": {"symbolType": "M-1,0L7,0", "symbolSize": 25, "labelOffset": 17, "rowPadding": 1.5, "padding": 2, "strokeColor": "black", "fillColor": "white", "labelFontSize": 6.8, "labelFontWeight": "bold", "labelColor": "black", "symbolStrokeWidth": 1.5, "labelLimit": 200}
  }
}
